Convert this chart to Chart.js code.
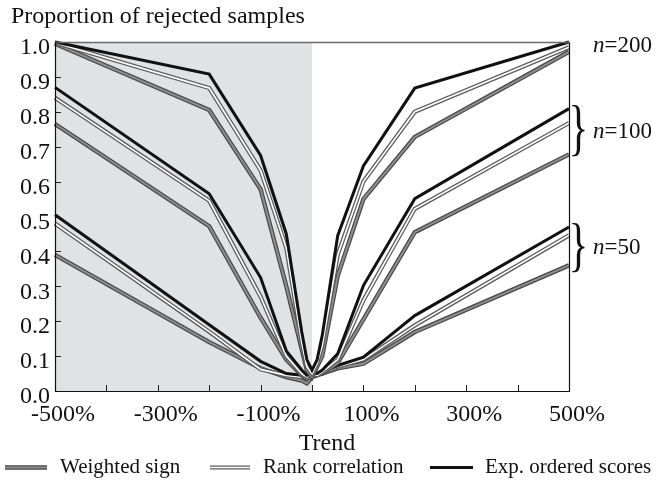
<!DOCTYPE html>
<html>
<head>
<meta charset="utf-8">
<script src="https://cdn.jsdelivr.net/npm/chart.js@4.4.0/dist/chart.umd.min.js"></script>
<style>
  html, body { margin: 0; padding: 0; background: #fff; }
  #chart { display: block; }
</style>
</head>
<body>
<canvas id="chart" width="657" height="483"></canvas>
<script>
// Trend values (%) at which the rejection rates were computed
const trends = [-500, -200, -100, -50, -20, -10, 0, 10, 20, 50, 100, 200, 500];

// Proportion of rejected samples, n = 200
const weighted200 = [0.995, 0.805, 0.578, 0.30, 0.12, 0.06, 0.04, 0.07, 0.10, 0.33, 0.55, 0.728, 0.972];
const rank200 = [0.998, 0.868, 0.632, 0.41, 0.14, 0.07, 0.05, 0.08, 0.13, 0.39, 0.60, 0.80, 0.985];
const exp200 = [1.0, 0.908, 0.675, 0.45, 0.17, 0.09, 0.06, 0.09, 0.16, 0.445, 0.645, 0.868, 1.0];

// n = 100
const weighted100 = [0.765, 0.472, 0.21, 0.09, 0.045, 0.035, 0.04, 0.045, 0.05, 0.08, 0.205, 0.455, 0.678];
const rank100 = [0.84, 0.545, 0.27, 0.10, 0.05, 0.04, 0.05, 0.045, 0.055, 0.09, 0.26, 0.522, 0.768];
const exp100 = [0.87, 0.565, 0.325, 0.115, 0.06, 0.045, 0.05, 0.05, 0.06, 0.107, 0.302, 0.551, 0.809];

// n = 50
const weighted50 = [0.39, 0.14, 0.065, 0.04, 0.03, 0.022, 0.04, 0.05, 0.05, 0.065, 0.078, 0.169, 0.36];
const rank50 = [0.48, 0.17, 0.062, 0.045, 0.04, 0.04, 0.05, 0.05, 0.05, 0.07, 0.09, 0.188, 0.446];
const exp50 = [0.505, 0.19, 0.085, 0.05, 0.045, 0.045, 0.05, 0.05, 0.055, 0.073, 0.097, 0.216, 0.47];

// Tick labels
const xTickLabels = ["-500%", "-300%", "-100%", "100%", "300%", "500%"];
const methodNames = ["Weighted sign", "Rank correlation", "Exp. ordered scores"];
const sizeLabels = ["200", "100", "50"];

const serif = "'Liberation Serif', 'Times New Roman', serif";

// Each method is drawn as a stack of strokes (outline first, core on top)
const lineStyles = {
  weighted: [{ color: "#474747", width: 4.4 }, { color: "#8e8e8e", width: 2 }],
  rank: [{ color: "#5a5a5a", width: 4.2 }, { color: "#ffffff", width: 1.7 }],
  exp: [{ color: "#111111", width: 3 }],
};

const series = [
  { method: "weighted", values: weighted50 },
  { method: "rank", values: rank50 },
  { method: "exp", values: exp50 },
  { method: "weighted", values: weighted100 },
  { method: "rank", values: rank100 },
  { method: "exp", values: exp100 },
  { method: "weighted", values: weighted200 },
  { method: "rank", values: rank200 },
  { method: "exp", values: exp200 },
];

let datasets = [];
let drawIndex = 0;
for (const s of series) {
  for (const layer of lineStyles[s.method]) {
    datasets.push({
      data: trends.map((t, i) => ({ x: t, y: s.values[i] })),
      borderColor: layer.color,
      borderWidth: layer.width,
      pointRadius: 0,
      fill: false,
      tension: 0,
      clip: false,
      // later entries get a lower order so they end up painted on top
      order: 1000 - drawIndex++,
    });
  }
}

// Grey half for negative trends, inner tick marks and the frame
const backdrop = {
  id: "backdrop",
  beforeDatasetsDraw(chart) {
    const { ctx, scales: { x, y } } = chart;
    const left = x.getPixelForValue(-500);
    const mid = x.getPixelForValue(0);
    const top = y.getPixelForValue(1);
    const bottom = y.getPixelForValue(0);
    ctx.save();
    ctx.fillStyle = "#e1e2e4";
    ctx.fillRect(left, top, mid - left, bottom - top);
    ctx.strokeStyle = "#222";
    ctx.lineWidth = 1;
    ctx.beginPath();
    x.ticks.forEach((t) => {
      const px = Math.round(x.getPixelForValue(t.value)) + 0.5;
      ctx.moveTo(px, bottom);
      ctx.lineTo(px, bottom - 6);
    });
    y.ticks.forEach((t) => {
      const py = Math.round(y.getPixelForValue(t.value)) + 0.5;
      ctx.moveTo(left, py);
      ctx.lineTo(left + 6, py);
    });
    ctx.stroke();
    ctx.restore();
  },
  afterDatasetsDraw(chart) {
    const { ctx, scales: { x, y } } = chart;
    const left = Math.round(x.getPixelForValue(-500)) + 0.5;
    const right = Math.round(x.getPixelForValue(500)) + 0.5;
    const top = Math.round(y.getPixelForValue(1)) + 0.5;
    const bottom = Math.round(y.getPixelForValue(0)) + 0.5;
    ctx.save();
    ctx.strokeStyle = "#6a6a6a";
    ctx.lineWidth = 1.4;
    ctx.beginPath();
    ctx.moveTo(left, top);
    ctx.lineTo(right, top);
    ctx.stroke();
    ctx.strokeStyle = "#111";
    ctx.lineWidth = 1.2;
    ctx.beginPath();
    ctx.moveTo(left, top);
    ctx.lineTo(left, bottom);
    ctx.lineTo(right, bottom);
    ctx.lineTo(right, top);
    ctx.stroke();
    ctx.restore();
  },
};

// Draws "}" stretched to span from y0 to y1
function drawBrace(ctx, x, y0, y1, width) {
  ctx.save();
  ctx.font = "60px " + serif;
  const m = ctx.measureText("}");
  const h = m.actualBoundingBoxAscent + m.actualBoundingBoxDescent;
  const w = m.actualBoundingBoxLeft + m.actualBoundingBoxRight;
  ctx.translate(x, y0);
  ctx.scale(width / w, (y1 - y0) / h);
  ctx.textBaseline = "alphabetic";
  ctx.fillText("}", m.actualBoundingBoxLeft, m.actualBoundingBoxAscent);
  ctx.restore();
}

function drawSizeLabel(ctx, size, x, baseline) {
  ctx.font = "italic 23px " + serif;
  ctx.fillText("n", x, baseline);
  const w = ctx.measureText("n").width;
  ctx.font = "23px " + serif;
  ctx.fillText("=" + size, x + w, baseline);
}

function drawSample(ctx, method, x1, x2, yMid) {
  for (const layer of lineStyles[method]) {
    ctx.strokeStyle = layer.color;
    ctx.lineWidth = layer.width;
    ctx.beginPath();
    ctx.moveTo(x1, yMid);
    ctx.lineTo(x2, yMid);
    ctx.stroke();
  }
}

const annotations = {
  id: "annotations",
  afterDraw(chart) {
    const ctx = chart.ctx;
    ctx.save();
    ctx.fillStyle = "#111";
    ctx.textBaseline = "alphabetic";
    ctx.font = "24px " + serif;
    ctx.fillText("Proportion of rejected samples", 11, 23);

    // axis title, sits a little right of the plot centre
    ctx.textAlign = "center";
    ctx.fillText("Trend", 327, 450);
    ctx.textAlign = "left";

    // sample size groups on the right
    drawSizeLabel(ctx, sizeLabels[0], 593, 52);
    drawBrace(ctx, 572, 105, 157, 13);
    drawSizeLabel(ctx, sizeLabels[1], 593, 138);
    drawBrace(ctx, 572, 222, 273, 13);
    drawSizeLabel(ctx, sizeLabels[2], 593, 254);

    // legend
    const items = [
      { method: "weighted", x1: 5, x2: 47, textX: 60 },
      { method: "rank", x1: 210, x2: 250, textX: 263 },
      { method: "exp", x1: 430, x2: 473, textX: 485 },
    ];
    items.forEach((it, i) => {
      drawSample(ctx, it.method, it.x1, it.x2, 467.5);
      ctx.font = "21px " + serif;
      ctx.fillText(methodNames[i], it.textX, 473);
    });
    ctx.restore();
  },
};

new Chart(document.getElementById("chart"), {
  type: "line",
  data: { datasets: datasets },
  plugins: [backdrop, annotations],
  options: {
    responsive: false,
    animation: false,
    events: [],
    layout: { padding: { left: 0, top: 42, right: 88, bottom: 0 } },
    plugins: {
      legend: { display: false },
      tooltip: { enabled: false },
    },
    scales: {
      x: {
        type: "linear",
        min: -500,
        max: 500,
        grid: { display: false, drawTicks: false },
        border: { display: false },
        ticks: {
          stepSize: 100,
          autoSkip: false,
          maxRotation: 0,
          padding: 9,
          labelOffset: 8,
          color: "#111",
          font: { family: serif, size: 24 },
          callback: (v) => {
            const label = v + "%";
            return xTickLabels.includes(label) ? label : "";
          },
        },
        afterFit: (s) => { s.height = 92; },
      },
      y: {
        min: 0,
        max: 1,
        grid: { display: false, drawTicks: false },
        border: { display: false },
        ticks: {
          stepSize: 0.1,
          padding: 5,
          labelOffset: 6,
          color: "#111",
          font: { family: serif, size: 24 },
          callback: (v) => v.toFixed(1),
        },
        afterFit: (s) => { s.width = 55; },
      },
    },
  },
});
</script>
</body>
</html>
